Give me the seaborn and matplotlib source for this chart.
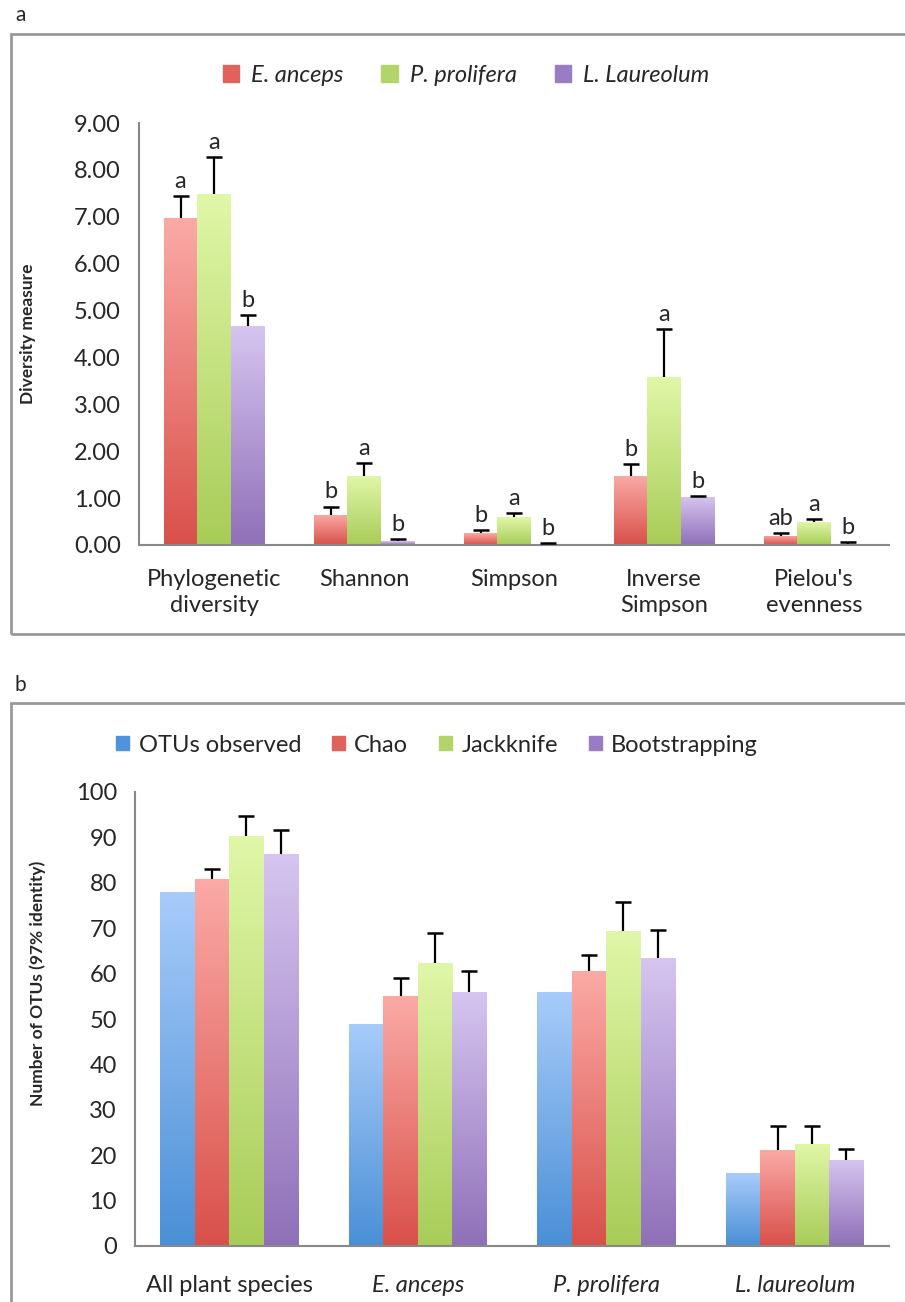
import numpy as np
import pandas as pd
import matplotlib
matplotlib.use('Agg')
import matplotlib.pyplot as plt
import seaborn as sns
from matplotlib.patches import Patch, Rectangle
from matplotlib.colors import LinearSegmentedColormap

# panel a data
metrics = ['Phylogenetic\ndiversity', 'Shannon', 'Simpson', 'Inverse\nSimpson', "Pielou's\nevenness"]
species_a = ['E. anceps', 'P. prolifera', 'L. Laureolum']
anceps_vals = [6.97, 0.65, 0.25, 1.48, 0.20]
anceps_tops = [7.45, 0.82, 0.32, 1.72, 0.25]
prolifera_vals = [7.48, 1.47, 0.59, 3.58, 0.48]
prolifera_tops = [8.28, 1.75, 0.68, 4.60, 0.55]
laureolum_vals = [4.68, 0.08, 0.02, 1.03, 0.03]
laureolum_tops = [4.90, 0.12, 0.04, 1.05, 0.06]
anceps_letters = ['a', 'b', 'b', 'b', 'ab']
prolifera_letters = ['a', 'a', 'a', 'a', 'a']
laureolum_letters = ['b', 'b', 'b', 'b', 'b']

# panel b data
groups = ['All plant species', 'E. anceps', 'P. prolifera', 'L. laureolum']
estimators = ['OTUs observed', 'Chao', 'Jackknife', 'Bootstrapping']
otus_vals = [78.0, 49.0, 56.0, 16.0]
chao_vals = [80.8, 55.0, 60.6, 21.2]
chao_tops = [83.0, 59.0, 64.0, 26.4]
jack_vals = [90.2, 62.3, 69.4, 22.5]
jack_tops = [94.8, 69.0, 75.8, 26.4]
boot_vals = [86.4, 56.0, 63.4, 19.0]
boot_tops = [91.6, 60.5, 69.5, 21.4]

# gradient colours (top, bottom) and legend colours
grad_blue = ('#a8ccfa', '#4a8fd6')
grad_red = ('#fbaaa6', '#d9504a')
grad_green = ('#e0f7a8', '#a8cc58')
grad_purple = ('#d6c5f0', '#8f70b8')
leg_blue, leg_red, leg_green, leg_purple = '#4f93dc', '#e0625b', '#b3d468', '#9a7cc4'

sns.set_style('white')
plt.rcParams['font.family'] = ['Lato', 'DejaVu Sans']
FS = 17

W, H = 905, 1302
fig = plt.figure(figsize=(W / 100, H / 100), dpi=100)


def fx(px):
    return px / W


def fy(py):
    return 1 - py / H


def gradient_bars(ax, container, colors):
    cmap = LinearSegmentedColormap.from_list('g', [colors[1], colors[0]])
    grad = np.linspace(0, 1, 256).reshape(-1, 1)
    for bar in container:
        x0, y0 = bar.get_x(), bar.get_y()
        w, h = bar.get_width(), bar.get_height()
        im = ax.imshow(grad, cmap=cmap, origin='lower', aspect='auto',
                       extent=[x0, x0 + w, y0, y0 + h], zorder=2)
        im.set_clip_path(bar)
        bar.set_alpha(0)


def up_errors(ax, container, vals, tops):
    xs = [b.get_x() + b.get_width() / 2 for b in container]
    ax.vlines(xs, vals, tops, color='black', lw=1.6, zorder=4)
    ax.plot(xs, tops, ls='none', marker='_', ms=11, mew=1.8, color='black', zorder=4)
    return xs


def style_axis(ax, n, labels, italic_flags):
    ax.set_xlim(-0.5, n - 0.5)
    ax.set_xticks(range(n))
    ax.set_xticklabels(labels, fontsize=FS, linespacing=1.3)
    for t, it in zip(ax.get_xticklabels(), italic_flags):
        if it:
            t.set_fontstyle('italic')
    ax.set_xticks([k - 0.5 for k in range(n + 1)], minor=True)
    ax.tick_params(axis='x', which='major', length=0, pad=17)
    ax.tick_params(axis='x', which='minor', length=8, width=1.3, color='#888888', direction='out')
    ax.tick_params(axis='y', length=7, width=1.3, color='#888888', direction='out', labelsize=FS, pad=6)
    sns.despine(ax=ax)
    for s in ['left', 'bottom']:
        ax.spines[s].set_color('#888888')
        ax.spines[s].set_linewidth(1.5)
    ax.set_xlabel('')
    ax.set_ylabel('')


# ---------------- panel a ----------------
ax_a = fig.add_axes([fx(139), fy(545), fx(889 - 139), (545 - 123) / H])
df_a = pd.DataFrame({
    'metric': metrics * 3,
    'species': sum([[s] * len(metrics) for s in species_a], []),
    'value': anceps_vals + prolifera_vals + laureolum_vals,
})
sns.barplot(data=df_a, x='metric', y='value', hue='species', order=metrics, hue_order=species_a,
            palette=[leg_red, leg_green, leg_purple], width=0.67, gap=0, errorbar=None,
            legend=False, ax=ax_a, zorder=2)
ax_a.set_ylim(0, 9)
ax_a.set_yticks(range(10))
ax_a.set_yticklabels(['%.2f' % v for v in range(10)])
style_axis(ax_a, len(metrics), metrics, [False] * len(metrics))

for cont, grad, vals, tops, lets in zip(ax_a.containers,
                                        [grad_red, grad_green, grad_purple],
                                        [anceps_vals, prolifera_vals, laureolum_vals],
                                        [anceps_tops, prolifera_tops, laureolum_tops],
                                        [anceps_letters, prolifera_letters, laureolum_letters]):
    gradient_bars(ax_a, cont, grad)
    xs = up_errors(ax_a, cont, vals, tops)
    for x, t, l in zip(xs, tops, lets):
        ax_a.annotate(l, (x, t), xytext=(0, 3), textcoords='offset points',
                      ha='center', va='bottom', fontsize=FS)

fig.text(fx(28), fy(334), 'Diversity measure', rotation=90, ha='center', va='center',
         fontsize=12.5, fontweight='bold')
fig.legend(handles=[Patch(color=c, label=s) for c, s in zip([leg_red, leg_green, leg_purple], species_a)],
           loc='center', bbox_to_anchor=(fx(466), fy(75)), ncol=3, frameon=False,
           handlelength=0.7, handleheight=0.7, handletextpad=0.5, columnspacing=1.6,
           prop={'size': FS, 'style': 'italic'})

# ---------------- panel b ----------------
ax_b = fig.add_axes([fx(135), fy(1246), fx(889 - 135), (1246 - 792) / H])
df_b = pd.DataFrame({
    'group': groups * 4,
    'estimator': sum([[e] * len(groups) for e in estimators], []),
    'value': otus_vals + chao_vals + jack_vals + boot_vals,
})
sns.barplot(data=df_b, x='group', y='value', hue='estimator', order=groups, hue_order=estimators,
            palette=[leg_blue, leg_red, leg_green, leg_purple], width=0.73, gap=0, errorbar=None,
            legend=False, ax=ax_b, zorder=2)
ax_b.set_ylim(0, 100)
ax_b.set_yticks(range(0, 101, 10))
style_axis(ax_b, len(groups), groups, [False, True, True, True])
ax_b.tick_params(axis='x', which='major', pad=21)

for cont, grad in zip(ax_b.containers, [grad_blue, grad_red, grad_green, grad_purple]):
    gradient_bars(ax_b, cont, grad)
for cont, vals, tops in zip(ax_b.containers[1:], [chao_vals, jack_vals, boot_vals],
                            [chao_tops, jack_tops, boot_tops]):
    up_errors(ax_b, cont, vals, tops)

fig.text(fx(38), fy(983), 'Number of OTUs (97% identity)', rotation=90, ha='center', va='center',
         fontsize=12.5, fontweight='bold')
fig.legend(handles=[Patch(color=c, label=s) for c, s in
                    zip([leg_blue, leg_red, leg_green, leg_purple], estimators)],
           loc='center', bbox_to_anchor=(fx(437), fy(745)), ncol=4, frameon=False,
           handlelength=0.55, handleheight=0.55, handletextpad=0.4, columnspacing=1.3,
           prop={'size': FS})

# panel frames and labels
for top, bottom in [(34, 634), (703, 1320)]:
    fig.patches.append(Rectangle((fx(11), fy(bottom)), fx(920 - 11), (bottom - top) / H,
                                 transform=fig.transFigure, fill=False,
                                 edgecolor='#999999', lw=2))
fig.text(fx(15), fy(15), 'a', fontsize=15, ha='left', va='center')
fig.text(fx(15), fy(685), 'b', fontsize=15, ha='left', va='center')

fig.savefig('out.png', dpi=100)
